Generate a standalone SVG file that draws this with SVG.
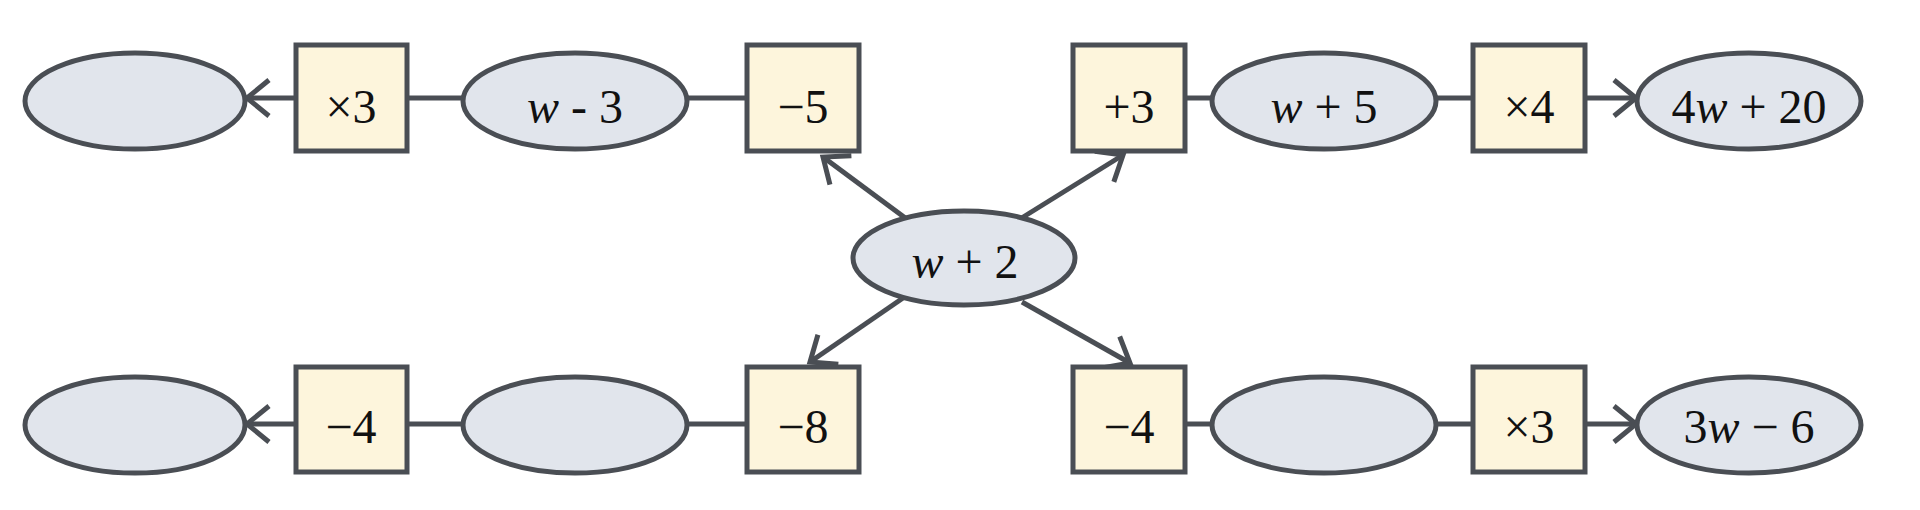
<svg xmlns="http://www.w3.org/2000/svg" width="1920" height="510" viewBox="0 0 1920 510">
<defs>
<marker id="ah" markerUnits="userSpaceOnUse" markerWidth="40" markerHeight="50" refX="30" refY="25" orient="auto" viewBox="0 0 40 50" overflow="visible">
<path d="M8,7 L30,25 L8,43" fill="none" stroke="#4a4e54" stroke-width="5"/>
</marker>
<style>
.e{fill:#e1e5ec;stroke:#4a4e54;stroke-width:5}
.b{fill:#fdf5dc;stroke:#4a4e54;stroke-width:5}
.c{stroke:#4a4e54;stroke-width:5;fill:none}
text{font-family:"Liberation Serif","DejaVu Serif",serif;font-size:48px;fill:#111;text-anchor:middle}
.i{font-style:italic}
</style>
</defs>
<rect width="1920" height="510" fill="#fff"/>
<g id="connectors">
<line class="c" x1="296" y1="98" x2="247" y2="98" marker-end="url(#ah)"/>
<line class="c" x1="407" y1="98" x2="464" y2="98"/>
<line class="c" x1="687" y1="98" x2="747" y2="98"/>
<line class="c" x1="1185" y1="98" x2="1212" y2="98"/>
<line class="c" x1="1436" y1="98" x2="1473" y2="98"/>
<line class="c" x1="1585" y1="98" x2="1636" y2="98" marker-end="url(#ah)"/>
<line class="c" x1="296" y1="424" x2="247" y2="424" marker-end="url(#ah)"/>
<line class="c" x1="407" y1="424" x2="464" y2="424"/>
<line class="c" x1="687" y1="424" x2="747" y2="424"/>
<line class="c" x1="1185" y1="424" x2="1212" y2="424"/>
<line class="c" x1="1436" y1="424" x2="1473" y2="424"/>
<line class="c" x1="1585" y1="424" x2="1636" y2="424" marker-end="url(#ah)"/>
<line class="c" x1="908" y1="220" x2="823" y2="157" marker-end="url(#ah)"/>
<line class="c" x1="903" y1="298" x2="810" y2="362" marker-end="url(#ah)"/>
<line class="c" x1="1020" y1="219" x2="1123" y2="155" marker-end="url(#ah)"/>
<line class="c" x1="1022" y1="302" x2="1130" y2="363" marker-end="url(#ah)"/>
</g>
<g id="n1"><ellipse class="e" cx="135" cy="101" rx="110" ry="48"/></g>
<g id="n2"><rect class="b" x="296" y="45" width="111" height="106"/><text x="351" y="123">×3</text></g>
<g id="n3"><ellipse class="e" cx="575" cy="101" rx="112" ry="48"/><text x="575" y="123"><tspan class="i">w</tspan> - 3</text></g>
<g id="n4"><rect class="b" x="747" y="45" width="112" height="106"/><text x="803" y="123">−5</text></g>
<g id="n5"><ellipse class="e" cx="964" cy="258" rx="111" ry="47"/><text x="965" y="278"><tspan class="i">w</tspan> + 2</text></g>
<g id="n6"><rect class="b" x="1073" y="45" width="112" height="106"/><text x="1129" y="123">+3</text></g>
<g id="n7"><ellipse class="e" cx="1324" cy="101" rx="112" ry="48"/><text x="1324" y="123"><tspan class="i">w</tspan> + 5</text></g>
<g id="n8"><rect class="b" x="1473" y="45" width="112" height="106"/><text x="1529" y="123">×4</text></g>
<g id="n9"><ellipse class="e" cx="1749" cy="101" rx="112" ry="48"/><text x="1749" y="123">4<tspan class="i">w</tspan> + 20</text></g>
<g id="n10"><ellipse class="e" cx="135" cy="425" rx="110" ry="48"/></g>
<g id="n11"><rect class="b" x="296" y="367" width="111" height="105"/><text x="351" y="443">−4</text></g>
<g id="n12"><ellipse class="e" cx="575" cy="425" rx="112" ry="48"/></g>
<g id="n13"><rect class="b" x="747" y="367" width="112" height="105"/><text x="803" y="443">−8</text></g>
<g id="n14"><rect class="b" x="1073" y="367" width="112" height="105"/><text x="1129" y="443">−4</text></g>
<g id="n15"><ellipse class="e" cx="1324" cy="425" rx="112" ry="48"/></g>
<g id="n16"><rect class="b" x="1473" y="367" width="112" height="105"/><text x="1529" y="443">×3</text></g>
<g id="n17"><ellipse class="e" cx="1749" cy="425" rx="112" ry="48"/><text x="1749" y="443">3<tspan class="i">w</tspan> − 6</text></g>
</svg>
